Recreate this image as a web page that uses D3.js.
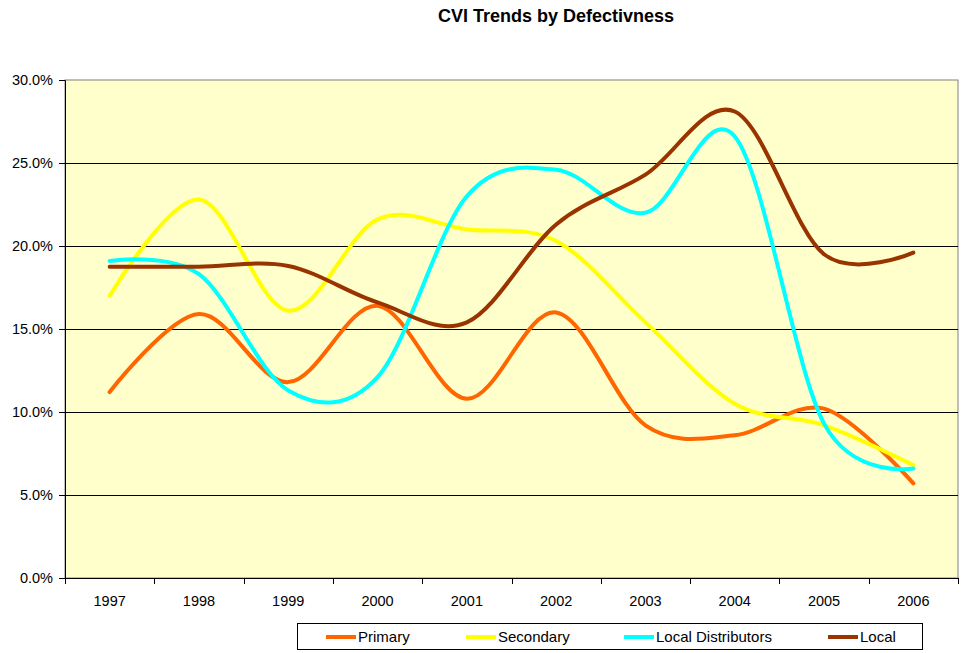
<!DOCTYPE html>
<html><head><meta charset="utf-8">
<script src="https://cdn.jsdelivr.net/npm/d3@7"></script>
<style>body{margin:0;background:#fff;}svg{display:block;font-family:Arial,"Liberation Sans",sans-serif;}</style>
</head><body><svg id="c" width="961" height="653"></svg>
<script>
const categories = ["1997","1998","1999","2000","2001","2002","2003","2004","2005","2006"];
const seriesNames = ["Primary","Secondary","Local Distributors","Local"];
const seriesColors = ["#FF6600","#FFFF00","#00FFFF","#993300"];
const primary = [11.2,15.9,11.8,16.4,10.8,16.0,9.2,8.6,10.2,5.7];
const secondary = [17.0,22.8,16.1,21.6,21.0,20.3,15.4,10.5,9.2,6.8];
const localDistributors = [19.1,18.3,11.3,12.1,23.0,24.6,22.0,26.6,9.3,6.6];
const local = [18.75,18.75,18.8,16.6,15.4,21.3,24.3,28.1,19.5,19.6];
const yTicks = [0,5,10,15,20,25,30];
const title = "CVI Trends by Defectivness";

const allSeries = [primary, secondary, localDistributors, local];
const svg = d3.select("#c");
const L = 65, R = 958, T = 80, B = 578;

const x = d3.scaleBand().domain(categories).range([L, R]).padding(0);
const y = d3.scaleLinear().domain([0, 30]).range([B, T]);

svg.append("text").attr("x", 556).attr("y", 22).attr("text-anchor", "middle")
  .attr("font-size", 18).attr("font-weight", "bold").text(title);

svg.append("rect").attr("x", L).attr("y", T).attr("width", R - L).attr("height", B - T)
  .attr("fill", "#FFFFCC").attr("stroke", "#808080").attr("stroke-width", 1);

// grid
svg.append("g").selectAll("line").data(yTicks.filter(d => d > 0 && d < 30)).join("line")
  .attr("x1", L).attr("x2", R).attr("y1", d => Math.round(y(d)) + 0.5).attr("y2", d => Math.round(y(d)) + 0.5)
  .attr("stroke", "#000").attr("stroke-width", 1);

// y axis
const yAxis = svg.append("g").attr("transform", `translate(${L},0)`)
  .call(d3.axisLeft(y).tickValues(yTicks).tickSize(6).tickPadding(6).tickFormat(d => d.toFixed(1) + "%"));
yAxis.selectAll("text").attr("font-size", 14.5).attr("fill", "#000").attr("font-family", "Arial, 'Liberation Sans', sans-serif");
yAxis.selectAll("line,path").attr("stroke", "#000");

// x axis with ticks between categories
const xAxis = svg.append("g").attr("transform", `translate(0,${B})`);
xAxis.append("line").attr("x1", L).attr("x2", R).attr("y1", 0.5).attr("y2", 0.5).attr("stroke", "#000");
const bounds = categories.map(c => x(c)).concat([R]);
xAxis.selectAll("line.t").data(bounds).join("line").attr("class", "t")
  .attr("x1", d => Math.round(d) + 0.5).attr("x2", d => Math.round(d) + 0.5).attr("y1", 0).attr("y2", 6).attr("stroke", "#000");
xAxis.selectAll("text").data(categories).join("text")
  .attr("x", d => x(d) + x.bandwidth() / 2).attr("y", 28).attr("text-anchor", "middle")
  .attr("font-size", 14.5).attr("fill", "#000").text(d => d);

// lines
const line = d3.line().x((d, i) => x(categories[i]) + x.bandwidth() / 2).y(d => y(d))
  .curve(d3.curveCardinal.tension(0));
svg.append("g").selectAll("path").data(allSeries).join("path")
  .attr("d", d => line(d)).attr("fill", "none")
  .attr("stroke", (d, i) => seriesColors[i]).attr("stroke-width", 4)
  .attr("stroke-linecap", "round").attr("stroke-linejoin", "round");

// legend
const lg = svg.append("g");
lg.append("rect").attr("x", 297.5).attr("y", 623.5).attr("width", 625).attr("height", 26)
  .attr("fill", "#fff").attr("stroke", "#000").attr("stroke-width", 1);
const legX = [326, 466, 624, 828];
seriesNames.forEach((n, i) => {
  lg.append("line").attr("x1", legX[i]).attr("x2", legX[i] + 30).attr("y1", 637).attr("y2", 637)
    .attr("stroke", seriesColors[i]).attr("stroke-width", 4);
  lg.append("text").attr("x", legX[i] + 32).attr("y", 642).attr("font-size", 15).attr("fill", "#000").text(n);
});
</script></body></html>
